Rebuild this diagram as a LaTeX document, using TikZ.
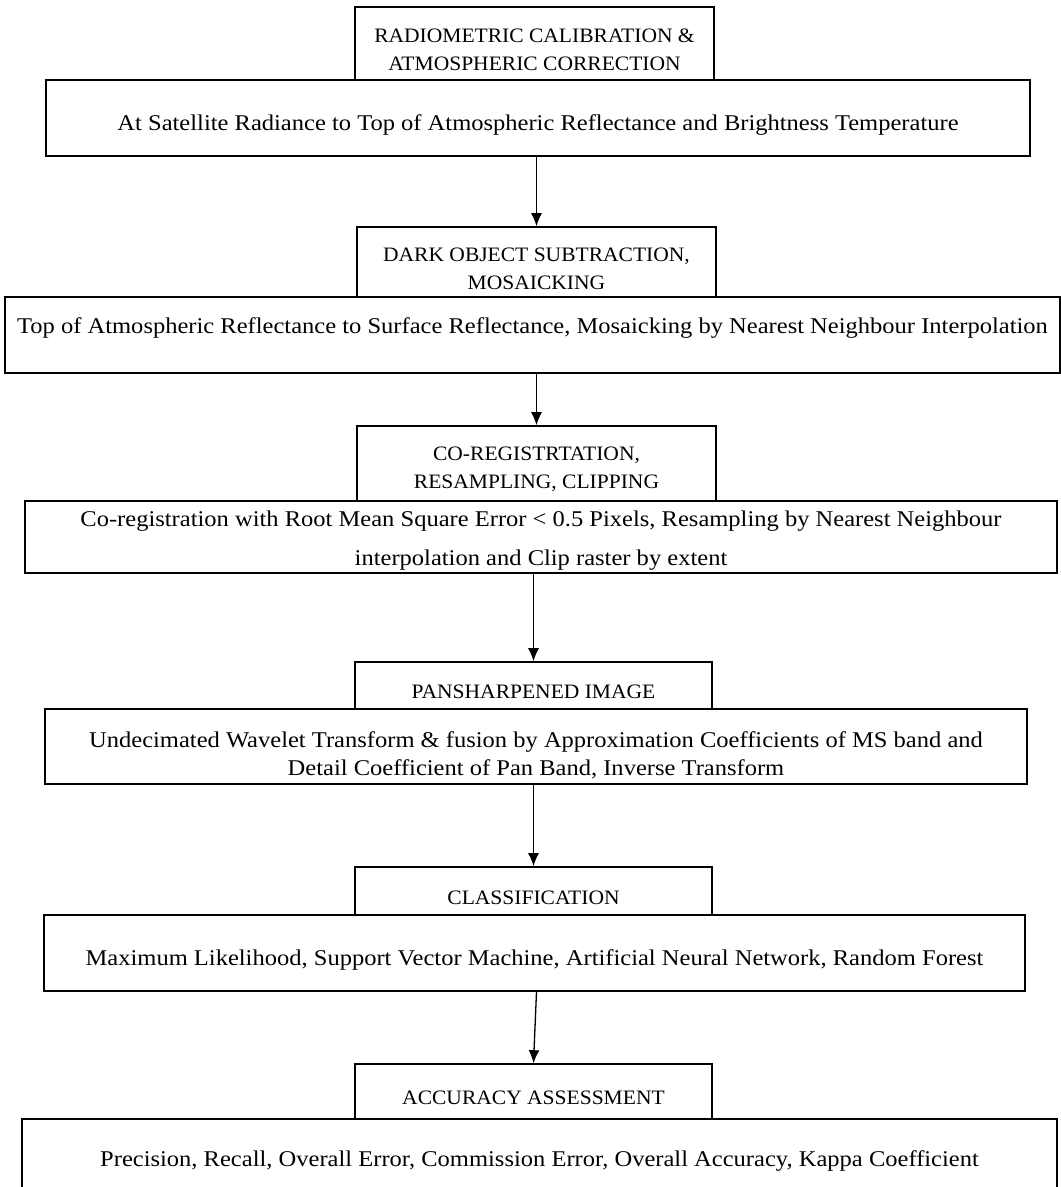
\documentclass[tikz,border=0pt]{standalone}
\usepackage{fontspec}
\setmainfont[FakeStretch=1.09]{Liberation Serif}
\newfontfamily\headfont[FakeStretch=1.05]{Liberation Serif}
\usetikzlibrary{positioning, arrows.meta}
\tikzset{
head/.style={draw, line width=1.6pt, inner sep=2pt, align=center, font=\headfont\fontsize{20.5}{28}\selectfont},
stage/.style={draw, line width=1.6pt, inner sep=2pt, align=center, font=\fontsize{22.5}{28}\selectfont},
drop/.style={execute at begin node={\rule{0pt}{#1}}},
flow/.style={-{Latex[length=13pt,width=11pt]}, line width=1.3pt},
}

\begin{document}
\begin{tikzpicture}[x=1pt,y=-1pt]
    \clip (0,0) rectangle (1061,1187);
    \fill[white] (0,0) rectangle (1061,1187);

    %header boxes
    \node[head, drop=54pt, minimum width=359pt, minimum height=73pt] (h1) at (534.5,43.5) {RADIOMETRIC CALIBRATION \&\\ATMOSPHERIC CORRECTION};
    \node[head, drop=56pt, minimum width=359pt, minimum height=70pt] (h2) at (536.5,262) {DARK OBJECT SUBTRACTION,\\MOSAICKING};
    \node[head, drop=54pt, minimum width=359pt, minimum height=75pt] (h3) at (536.5,463.5) {CO-REGISTRTATION,\\RESAMPLING, CLIPPING};
    \node[head, drop=27pt, minimum width=357pt, minimum height=47pt] (h4) at (533.5,685.5) {PANSHARPENED IMAGE};
    \node[head, drop=27pt, minimum width=357pt, minimum height=48pt] (h5) at (533.5,891) {CLASSIFICATION};
    \node[head, drop=27pt, minimum width=357pt, minimum height=55pt] (h6) at (533.5,1091.5) {ACCURACY ASSESSMENT};

    %detail boxes
    \node[stage, drop=30pt, minimum width=984pt, minimum height=76pt] (m1) at (538,118) {At Satellite Radiance to Top of Atmospheric Reflectance and Brightness Temperature};
    \node[stage, minimum width=1055pt, minimum height=76pt, text depth=18pt] (m2) at (532.5,335) {Top of Atmospheric Reflectance to Surface Reflectance, Mosaicking by Nearest Neighbour Interpolation};
    \node[stage, drop=61pt, minimum width=1032pt, minimum height=72pt] (m3) at (541,537) {Co-registration with Root Mean Square Error < 0.5 Pixels, Resampling by Nearest Neighbour\\[11pt]interpolation and Clip raster by extent};
    \node[stage, drop=61pt, minimum width=982pt, minimum height=75pt] (m4) at (536,746.5) {Undecimated Wavelet Transform \& fusion by Approximation Coefficients of MS band and\\Detail Coefficient of Pan Band, Inverse Transform};
    \node[stage, drop=30pt, minimum width=981pt, minimum height=76pt] (m5) at (534.5,953) {Maximum Likelihood, Support Vector Machine, Artificial Neural Network, Random Forest};
    \node[stage, minimum width=1035pt, minimum height=100pt, text depth=20pt] (m6) at (539.5,1169) {Precision, Recall, Overall Error, Commission Error, Overall Accuracy, Kappa Coefficient};

    %arrows between stages
    \draw[flow] (m1.south -| h2.north) -- (h2.north);
    \draw[flow] (m2.south -| h3.north) -- (h3.north);
    \draw[flow] (m3.south -| h4.north) -- (h4.north);
    \draw[flow] (m4.south -| h5.north) -- (h5.north);
    \draw[flow] ([xshift=3pt]m5.south -| h6.north) -- (h6.north);
\end{tikzpicture}
\end{document}
